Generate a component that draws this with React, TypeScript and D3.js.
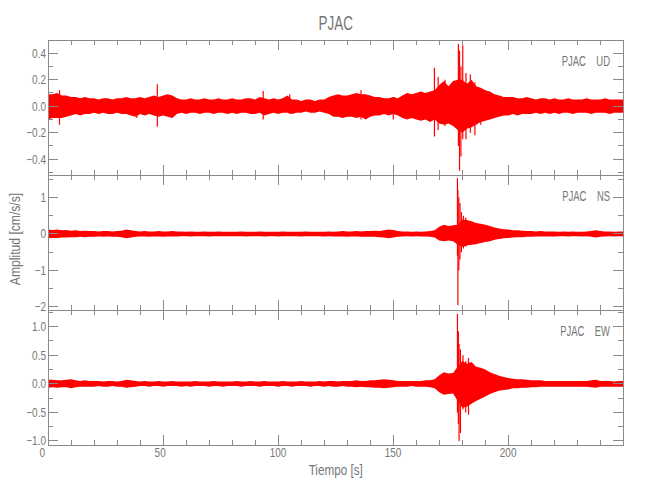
import React from 'react';
import * as d3 from 'd3';

// ---------- data ----------
const TITLE = 'PJAC';
const STATION = 'PJAC';
const X_LABEL = 'Tiempo [s]';
const Y_LABEL = 'Amplitud [cm/s/s]';
const X_TICKS = [0, 50, 100, 150, 200];
const X_TICK_LABELS = ['0', '50', '100', '150', '200'];
const X_MAX = 250;
const BIN_SECONDS = 2; // envelope bins: t = 0, 2, 4, ... 250 s

// UD component: per-bin max / min (cm/s/s)
const UD_UPPER = [
  0.09, 0.09, 0.10, 0.08, 0.08, 0.07, 0.07, 0.06, 0.07, 0.06,
  0.06, 0.05, 0.06, 0.06, 0.05, 0.06, 0.06, 0.07, 0.06, 0.06,
  0.07, 0.06, 0.07, 0.08, 0.07, 0.08, 0.09, 0.08, 0.06, 0.05,
  0.05, 0.06, 0.05, 0.05, 0.06, 0.05, 0.05, 0.06, 0.05, 0.05,
  0.06, 0.05, 0.05, 0.06, 0.06, 0.05, 0.07, 0.06, 0.05, 0.06,
  0.05, 0.06, 0.08, 0.05, 0.05, 0.04, 0.05, 0.05, 0.04, 0.05,
  0.05, 0.07, 0.08, 0.09, 0.08, 0.08, 0.09, 0.10, 0.09, 0.09,
  0.08, 0.07, 0.07, 0.06, 0.06, 0.07, 0.06, 0.08, 0.10, 0.09,
  0.10, 0.11, 0.10, 0.11, 0.12, 0.16, 0.19, 0.15, 0.19, 0.20,
  0.20, 0.17, 0.20, 0.15, 0.14, 0.12, 0.11, 0.09, 0.08, 0.07,
  0.07, 0.07, 0.06, 0.06, 0.07, 0.06, 0.05, 0.06, 0.06, 0.05,
  0.06, 0.05, 0.05, 0.06, 0.05, 0.05, 0.05, 0.06, 0.05, 0.05,
  0.05, 0.06, 0.05, 0.05, 0.05, 0.05,
];
const UD_LOWER = [
  -0.10, -0.09, -0.09, -0.09, -0.08, -0.07, -0.06, -0.07, -0.06, -0.06,
  -0.05, -0.06, -0.05, -0.06, -0.06, -0.05, -0.06, -0.06, -0.07, -0.08,
  -0.06, -0.07, -0.06, -0.07, -0.08, -0.07, -0.08, -0.09, -0.06, -0.05,
  -0.06, -0.05, -0.05, -0.06, -0.05, -0.05, -0.06, -0.05, -0.05, -0.06,
  -0.05, -0.06, -0.05, -0.05, -0.06, -0.06, -0.05, -0.07, -0.06, -0.05,
  -0.06, -0.05, -0.05, -0.06, -0.05, -0.05, -0.04, -0.05, -0.05, -0.04,
  -0.05, -0.06, -0.08, -0.08, -0.09, -0.08, -0.08, -0.09, -0.08, -0.10,
  -0.08, -0.07, -0.07, -0.06, -0.07, -0.06, -0.07, -0.09, -0.10, -0.09,
  -0.10, -0.11, -0.10, -0.12, -0.10, -0.13, -0.14, -0.13, -0.15, -0.18,
  -0.20, -0.17, -0.16, -0.14, -0.12, -0.11, -0.10, -0.09, -0.08, -0.07,
  -0.07, -0.06, -0.07, -0.06, -0.06, -0.06, -0.05, -0.06, -0.05, -0.06,
  -0.05, -0.06, -0.05, -0.05, -0.06, -0.05, -0.05, -0.05, -0.06, -0.05,
  -0.05, -0.05, -0.06, -0.05, -0.05, -0.05,
];
// isolated spikes: [time s, max, min]
const UD_SPIKES = [
  [5, 0.12, -0.14], [38.6, 0.06, -0.09], [47.5, 0.165, -0.155], [93.5, 0.115, -0.10],
  [105, 0.09, -0.06], [136, 0.12, -0.10], [150, 0.07, -0.10], [167.9, 0.29, -0.23],
  [169.5, 0.22, -0.18], [172.5, 0.2, -0.15], [178.3, 0.47, -0.30], [178.8, 0.42, -0.487],
  [179.4, 0.30, -0.38], [180.2, 0.46, -0.25], [181.6, 0.25, -0.25], [183.5, 0.24, -0.20],
  [185.5, 0.18, -0.22], [188, 0.12, -0.14],
];

// NS component
const NS_UPPER = [
  0.12, 0.11, 0.12, 0.10, 0.11, 0.09, 0.10, 0.08, 0.09, 0.08,
  0.08, 0.07, 0.08, 0.08, 0.07, 0.08, 0.09, 0.12, 0.10, 0.08,
  0.07, 0.08, 0.07, 0.07, 0.08, 0.07, 0.07, 0.08, 0.07, 0.07,
  0.06, 0.07, 0.06, 0.06, 0.07, 0.06, 0.06, 0.07, 0.06, 0.06,
  0.06, 0.06, 0.07, 0.06, 0.06, 0.06, 0.07, 0.06, 0.06, 0.06,
  0.06, 0.07, 0.06, 0.06, 0.06, 0.06, 0.07, 0.06, 0.06, 0.06,
  0.06, 0.07, 0.06, 0.07, 0.08, 0.07, 0.07, 0.08, 0.07, 0.08,
  0.08, 0.09, 0.08, 0.10, 0.12, 0.11, 0.08, 0.07, 0.07, 0.06,
  0.07, 0.06, 0.07, 0.08, 0.10, 0.20, 0.25, 0.22, 0.24, 0.25,
  0.40, 0.38, 0.35, 0.30, 0.28, 0.25, 0.22, 0.18, 0.15, 0.13,
  0.12, 0.10, 0.10, 0.09, 0.08, 0.08, 0.07, 0.08, 0.07, 0.07,
  0.07, 0.06, 0.07, 0.06, 0.07, 0.06, 0.06, 0.07, 0.08, 0.10,
  0.08, 0.07, 0.07, 0.06, 0.07, 0.07,
];
const NS_LOWER = [
  -0.12, -0.11, -0.11, -0.10, -0.10, -0.09, -0.09, -0.08, -0.09, -0.08,
  -0.08, -0.07, -0.08, -0.07, -0.08, -0.08, -0.09, -0.12, -0.10, -0.08,
  -0.07, -0.07, -0.08, -0.07, -0.07, -0.08, -0.07, -0.07, -0.07, -0.06,
  -0.06, -0.07, -0.06, -0.06, -0.06, -0.07, -0.06, -0.06, -0.06, -0.06,
  -0.06, -0.06, -0.06, -0.07, -0.06, -0.06, -0.06, -0.07, -0.06, -0.06,
  -0.07, -0.06, -0.06, -0.06, -0.06, -0.07, -0.06, -0.06, -0.06, -0.06,
  -0.07, -0.06, -0.07, -0.07, -0.07, -0.08, -0.07, -0.07, -0.08, -0.08,
  -0.08, -0.08, -0.09, -0.10, -0.12, -0.10, -0.08, -0.07, -0.06, -0.07,
  -0.06, -0.07, -0.07, -0.08, -0.10, -0.18, -0.20, -0.18, -0.20, -0.30,
  -0.35, -0.32, -0.30, -0.28, -0.25, -0.22, -0.20, -0.16, -0.14, -0.12,
  -0.11, -0.10, -0.09, -0.09, -0.08, -0.08, -0.07, -0.07, -0.07, -0.07,
  -0.07, -0.06, -0.06, -0.07, -0.06, -0.06, -0.07, -0.06, -0.08, -0.10,
  -0.08, -0.07, -0.06, -0.07, -0.06, -0.07,
];
const NS_SPIKES = [
  [177.9, 1.53, -0.6], [178.1, 1.2, -1.96], [178.5, 1.0, -1.0], [179.0, 0.85, -0.7],
  [179.6, 0.6, -0.5], [180.5, 0.5, -0.4], [181.5, 0.45, -0.35],
];

// EW component
const EW_UPPER = [
  0.07, 0.07, 0.06, 0.06, 0.07, 0.08, 0.06, 0.05, 0.06, 0.05,
  0.05, 0.05, 0.04, 0.05, 0.05, 0.04, 0.05, 0.07, 0.06, 0.05,
  0.04, 0.05, 0.04, 0.04, 0.05, 0.04, 0.04, 0.05, 0.04, 0.04,
  0.04, 0.04, 0.05, 0.04, 0.04, 0.04, 0.05, 0.04, 0.04, 0.04,
  0.04, 0.05, 0.04, 0.04, 0.05, 0.04, 0.04, 0.05, 0.04, 0.04,
  0.04, 0.05, 0.04, 0.04, 0.04, 0.05, 0.04, 0.04, 0.04, 0.05,
  0.04, 0.05, 0.05, 0.04, 0.05, 0.05, 0.05, 0.06, 0.05, 0.05,
  0.06, 0.06, 0.07, 0.08, 0.07, 0.06, 0.05, 0.05, 0.05, 0.05,
  0.05, 0.05, 0.06, 0.06, 0.08, 0.15, 0.20, 0.18, 0.19, 0.30,
  0.40, 0.35, 0.38, 0.30, 0.28, 0.25, 0.20, 0.17, 0.14, 0.12,
  0.10, 0.09, 0.08, 0.08, 0.07, 0.06, 0.06, 0.06, 0.05, 0.05,
  0.05, 0.05, 0.05, 0.05, 0.05, 0.05, 0.05, 0.05, 0.06, 0.07,
  0.05, 0.05, 0.05, 0.04, 0.05, 0.05,
];
const EW_LOWER = [
  -0.07, -0.06, -0.07, -0.06, -0.06, -0.08, -0.06, -0.05, -0.05, -0.05,
  -0.05, -0.04, -0.05, -0.05, -0.04, -0.05, -0.05, -0.07, -0.06, -0.05,
  -0.04, -0.04, -0.05, -0.04, -0.04, -0.05, -0.04, -0.04, -0.04, -0.05,
  -0.04, -0.05, -0.04, -0.04, -0.04, -0.05, -0.04, -0.04, -0.05, -0.04,
  -0.04, -0.04, -0.05, -0.04, -0.04, -0.04, -0.05, -0.04, -0.04, -0.04,
  -0.05, -0.04, -0.04, -0.05, -0.04, -0.04, -0.04, -0.05, -0.04, -0.04,
  -0.05, -0.04, -0.05, -0.05, -0.04, -0.05, -0.05, -0.06, -0.05, -0.06,
  -0.06, -0.07, -0.07, -0.08, -0.07, -0.06, -0.05, -0.05, -0.05, -0.04,
  -0.05, -0.05, -0.05, -0.06, -0.08, -0.15, -0.19, -0.18, -0.17, -0.30,
  -0.42, -0.40, -0.35, -0.30, -0.26, -0.22, -0.18, -0.15, -0.12, -0.11,
  -0.10, -0.08, -0.08, -0.07, -0.07, -0.06, -0.06, -0.05, -0.05, -0.05,
  -0.05, -0.05, -0.05, -0.05, -0.05, -0.05, -0.05, -0.05, -0.06, -0.07,
  -0.05, -0.05, -0.05, -0.05, -0.05, -0.05,
];
const EW_SPIKES = [
  [177.9, 1.22, -0.5], [178.3, 0.92, -0.7], [178.6, 0.7, -1.0], [179.2, 0.6, -0.86],
  [180.3, 0.5, -0.45], [181.5, 0.4, -0.5], [182.7, 0.45, -0.54], [184.5, 0.35, -0.3],
];

// axis ranges and ticks per component
const UD_DOMAIN = [-0.52, 0.5];
const UD_TICKS = [-0.4, -0.2, 0, 0.2, 0.4];
const UD_TICK_LABELS = ['\u22120.4', '\u22120.2', '0.0', '0.2', '0.4'];
const UD_MINOR = [-0.5, -0.3, -0.1, 0.1, 0.3, 0.5];

const NS_DOMAIN = [-2.09, 1.62];
const NS_TICKS = [-2, -1, 0, 1];
const NS_TICK_LABELS = ['\u22122', '\u22121', '0', '1'];
const NS_MINOR = [-1.5, -0.5, 0.5, 1.5];

const EW_DOMAIN = [-1.07, 1.29];
const EW_TICKS = [-1, -0.5, 0, 0.5, 1];
const EW_TICK_LABELS = ['\u22121.0', '\u22120.5', '0.0', '0.5', '1.0'];
const EW_MINOR = [-0.75, -0.25, 0.25, 0.75, 1.25];

// ---------- layout ----------
const W = 650;
const H = 500;
const LEFT = 48;
const RIGHT = 623.4;
const TOP = 40;
const PANEL_H = 135;
const AXIS = '#8a8a8a';
const TEXT = '#767676';
const TRACE = '#ff0000';
const FONT = '"Liberation Sans", Arial, sans-serif';

type Panel = {
  comp: string;
  upper: number[];
  lower: number[];
  spikes: number[][];
  domain: number[];
  ticks: number[];
  labels: string[];
  minor: number[];
};

const PANELS: Panel[] = [
  { comp: 'UD', upper: UD_UPPER, lower: UD_LOWER, spikes: UD_SPIKES, domain: UD_DOMAIN, ticks: UD_TICKS, labels: UD_TICK_LABELS, minor: UD_MINOR },
  { comp: 'NS', upper: NS_UPPER, lower: NS_LOWER, spikes: NS_SPIKES, domain: NS_DOMAIN, ticks: NS_TICKS, labels: NS_TICK_LABELS, minor: NS_MINOR },
  { comp: 'EW', upper: EW_UPPER, lower: EW_LOWER, spikes: EW_SPIKES, domain: EW_DOMAIN, ticks: EW_TICKS, labels: EW_TICK_LABELS, minor: EW_MINOR },
];

function Label(props: {
  x: number; y: number; text: string; size: number; anchor?: string; sx?: number; rotate?: number;
}) {
  const { x, y, text, size, anchor = 'start', sx = 0.8, rotate = 0 } = props;
  return (
    <text
      transform={`translate(${x},${y}) rotate(${rotate}) scale(${sx},1)`}
      fontSize={size}
      fontFamily={FONT}
      textAnchor={anchor}
      fill={TEXT}
      xmlSpace="preserve"
      style={{ whiteSpace: 'pre' }}
    >
      {text}
    </text>
  );
}

export default function App() {
  const x = d3.scaleLinear().domain([0, X_MAX]).range([LEFT, RIGHT]);
  const xMinor = d3.range(0, X_MAX + 0.001, 10);

  return (
    <svg width={W} height={H} style={{ position: 'absolute', left: 0, top: 0, background: '#fff' }}>
      <rect x={0} y={0} width={W} height={H} fill="#fff" />
      <defs>
        {PANELS.map((p, i) => (
          <clipPath id={`clip${i}`} key={i}>
            <rect x={LEFT} y={TOP + i * PANEL_H} width={RIGHT - LEFT} height={PANEL_H} />
          </clipPath>
        ))}
      </defs>

      <Label x={(LEFT + RIGHT) / 2} y={30} text={TITLE} size={21} anchor="middle" sx={0.64} />

      {PANELS.map((p, i) => {
        const y0 = TOP + i * PANEL_H;
        const y1 = y0 + PANEL_H;
        const y = d3.scaleLinear().domain(p.domain).range([y1, y0]);
        const area = d3
          .area<number>()
          .x((_, j) => x(j * BIN_SECONDS))
          .y0((_, j) => y(p.lower[j]))
          .y1((d) => y(d))
          .curve(d3.curveLinear);
        const path = area(p.upper) || '';
        return (
          <g key={p.comp}>
            <g clipPath={`url(#clip${i})`}>
              <path d={path} fill={TRACE} stroke="none" />
              {p.spikes.map((s, k) => (
                <line key={k} x1={x(s[0])} x2={x(s[0])} y1={y(s[1])} y2={y(s[2])} stroke={TRACE} strokeWidth={1.2} />
              ))}
            </g>
            <g stroke={AXIS} strokeWidth={1} shapeRendering="crispEdges">
              <rect x={LEFT} y={y0} width={RIGHT - LEFT} height={PANEL_H} fill="none" />
              {xMinor.map((t) => {
                const len = t % 50 === 0 ? 10 : 5;
                return (
                  <g key={t}>
                    <line x1={x(t)} x2={x(t)} y1={y0} y2={y0 + len} />
                    <line x1={x(t)} x2={x(t)} y1={y1} y2={y1 - len} />
                  </g>
                );
              })}
              {p.ticks.map((v) => (
                <g key={`M${v}`}>
                  <line x1={LEFT} x2={LEFT + 10} y1={y(v)} y2={y(v)} />
                  <line x1={RIGHT} x2={RIGHT - 10} y1={y(v)} y2={y(v)} />
                </g>
              ))}
              {p.minor.map((v) => (
                <g key={`m${v}`}>
                  <line x1={LEFT} x2={LEFT + 5} y1={y(v)} y2={y(v)} />
                  <line x1={RIGHT} x2={RIGHT - 5} y1={y(v)} y2={y(v)} />
                </g>
              ))}
            </g>
            {p.ticks.map((v, k) => (
              <Label key={`l${v}`} x={LEFT - 2} y={y(v) + 4.5} text={p.labels[k]} size={12.5} anchor="end" sx={0.8} />
            ))}
            <Label x={610} y={y0 + 26} text={`${STATION}    ${p.comp}`} size={15} anchor="end" sx={0.63} />
          </g>
        );
      })}

      {X_TICKS.map((t, k) => (
        <Label key={t} x={x(t) - 8.5} y={457} text={X_TICK_LABELS[k]} size={12.5} anchor="start" sx={0.8} />
      ))}
      <Label x={(LEFT + RIGHT) / 2} y={475} text={X_LABEL} size={15} anchor="middle" sx={0.78} />
      <Label x={19.5} y={239} text={Y_LABEL} size={15} anchor="middle" sx={0.81} rotate={-90} />
    </svg>
  );
}
